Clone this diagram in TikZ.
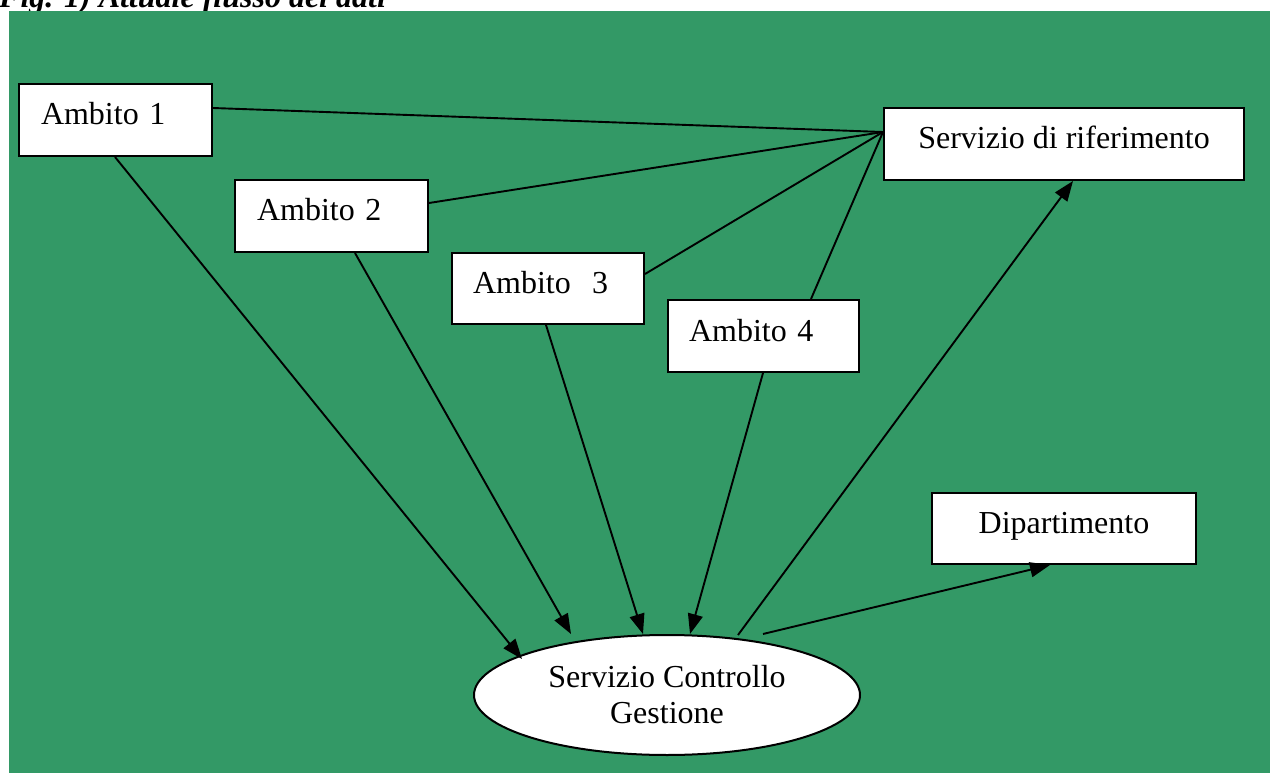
\documentclass[tikz,border=0pt]{standalone}
\usepackage{fontspec}
\setmainfont{Liberation Serif}
\usetikzlibrary{shapes.geometric,arrows.meta,calc}
\definecolor{panelgreen}{RGB}{51,153,102}

\begin{document}
\begin{tikzpicture}[x=1pt,y=-1pt,
  every node/.style={font=\fontsize{32}{36}\selectfont},
  box/.style={draw=black,fill=white,line width=2pt,rectangle,anchor=north west,
    inner ysep=0pt,text height=41pt,text depth=31pt},
  leftbox/.style={box,inner xsep=22pt,text width=149pt,align=left},
  centbox/.style={box,inner xsep=0pt,align=center},
  link/.style={line width=1.9pt},
  flow/.style={link,-{Triangle[length=20pt,width=15pt]}}]

\useasboundingbox (0,0) rectangle (1270,773);
\fill[white] (0,0) rectangle (1270,773);

% caption, partly hidden by the panel
\node[anchor=base west,inner sep=0pt,font=\fontsize{32}{36}\selectfont\bfseries\itshape]
  (title) at (-1,8) {Fig. 1) Attuale flusso dei dati};

% green panel
\fill[panelgreen] (9,11) rectangle (1270,773);

% boxes
\node[leftbox] (a1) at (18,83) {Ambito 1};
\node[leftbox] (a2) at (234,179) {Ambito 2};
\node[leftbox,inner xsep=21pt,text width=150pt,text height=40pt] (a3) at (451,252) {Ambito~~3};
\node[leftbox,inner xsep=21pt] (a4) at (667,299) {Ambito 4};
\node[centbox,minimum width=360pt] (sr) at (883,107) {Servizio di riferimento};
\node[centbox,minimum width=264pt,text height=40pt] (dip) at (931,492) {Dipartimento};

\node[ellipse,draw=black,fill=white,line width=2pt,minimum width=386pt,
  minimum height=120pt,inner sep=0pt,align=center] (scg) at (667,695)
  {Servizio Controllo\\Gestione};

% links to the reference service
\coordinate (hub) at ($(sr.north west)+(0,25)$);
\draw[link] ($(a1.north east)+(0,25)$) -- (hub);
\draw[link] ($(a2.north east)+(0,24)$) -- (hub);
\draw[link] ($(a3.north east)+(0,22)$) -- (hub);
\draw[link] ($(a4.north west)+(144,0)$) -- (hub);

% data flows into the control service
\draw[flow] ($(a1.south west)+(97,0)$) -- ($(scg.center)+(-145,-36)$);
\draw[flow] ($(a2.south west)+(121,0)$) -- ($(scg.center)+(-96,-61)$);
\draw[flow] ($(a3.south west)+(95,0)$) -- ($(scg.center)+(-24,-61)$);
\draw[flow] ($(a4.south west)+(96,0)$) -- ($(scg.center)+(23,-61)$);

% data flows out of the control service
\draw[flow] ($(scg.center)+(71,-60)$) -- ($(sr.south west)+(190,0)$);
\draw[flow] ($(scg.center)+(96,-61)$) -- ($(dip.south west)+(119,0)$);
\end{tikzpicture}
\end{document}
